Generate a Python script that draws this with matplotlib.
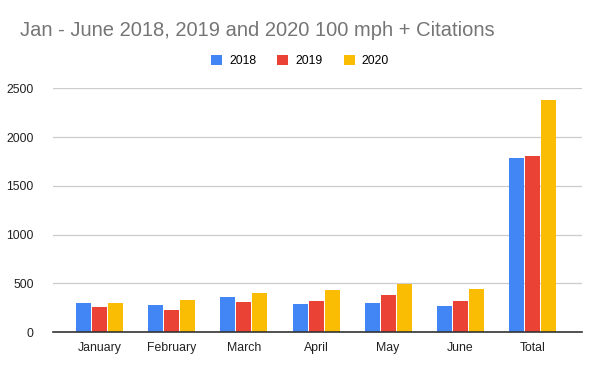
import numpy as np
import matplotlib.pyplot as plt

months = ['January', 'February', 'March', 'April', 'May', 'June', 'Total']
years = ['2018', '2019', '2020']
cit_2018 = [296, 275, 357, 286, 296, 265, 1785]
cit_2019 = [255, 224, 306, 316, 381, 316, 1805]
cit_2020 = [296, 326, 398, 428, 490, 439, 2384]
yticks = [0, 500, 1000, 1500, 2000, 2500]

colors = ['#4285F4', '#EA4335', '#FBBC04']

plt.rcParams['font.family'] = ['Arial', 'Liberation Sans', 'DejaVu Sans']

fig = plt.figure(figsize=(6, 3.71), dpi=100)
ax = fig.add_axes([0.0883, 0.1051, 0.8817, 0.657])

x = np.arange(len(months))
w = 0.208
step = 0.222
for i, (vals, c, lab) in enumerate(zip([cit_2018, cit_2019, cit_2020], colors, years)):
    ax.bar(x + (i - 1) * step, vals, width=w, color=c, label=lab, zorder=3)

ax.set_xlim(-0.65, 6.69)
ax.set_ylim(0, 2500)
ax.set_yticks(yticks)
ax.set_yticklabels([str(v) for v in yticks], fontsize=8.8, color='#222222')
ax.set_xticks(x)
ax.set_xticklabels(months, fontsize=8.8, color='#222222')
ax.grid(axis='y', color='#cccccc', linewidth=0.9, zorder=0)
for s in ['top', 'right', 'left']:
    ax.spines[s].set_visible(False)
ax.spines['bottom'].set_color('#333333')
ax.spines['bottom'].set_linewidth(1.2)
ax.spines['bottom'].set_zorder(4)
ax.tick_params(axis='both', length=0)
ax.tick_params(axis='x', pad=7)
ax.tick_params(axis='y', pad=14)

fig.text(20 / 600, 1 - 31 / 371, 'Jan - June 2018, 2019 and 2020 100 mph + Citations',
         fontsize=14.5, color='#757575', va='center', ha='left')
fig.legend(loc='center', bbox_to_anchor=(0.5, 1 - 61 / 371), ncol=3, frameon=False,
           fontsize=8.8, handlelength=0.9, handleheight=0.9, handletextpad=0.6,
           columnspacing=1.7)

fig.savefig('out.png', dpi=100)
